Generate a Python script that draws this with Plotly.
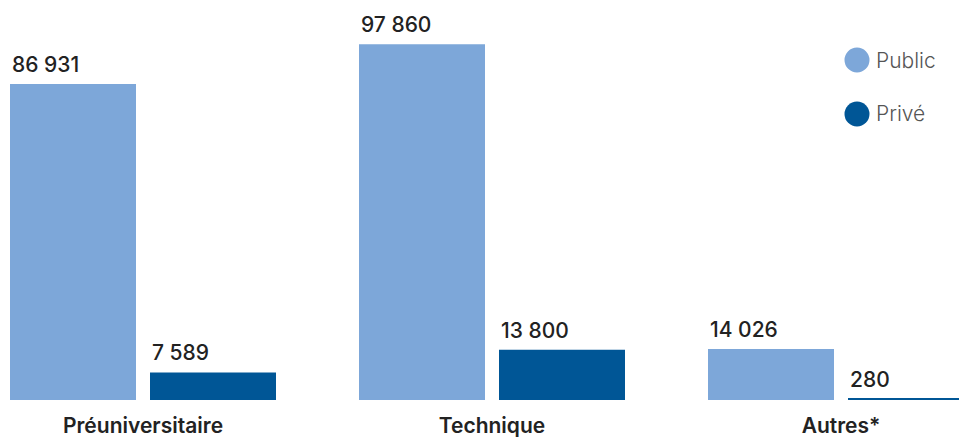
import plotly.graph_objects as go

categories = ["Préuniversitaire", "Technique", "Autres*"]
public_values = [86931, 97860, 14026]
prive_values = [7589, 13800, 280]
series_names = ["Public", "Privé"]
colors = ["#7da7d9", "#005696"]

W, H = 959, 439
MT, MB = 0, 39
YMAX = 110000
BARGAP = 0.1977
GROUPGAP = 0.1
CAT_PX = 349.0
FIRST_CENTER_PX = 143.0

def fmt(v):
    return f"{v:,}".replace(",", " ")

fig = go.Figure()
for name, vals, col in zip(series_names, [public_values, prive_values], colors):
    fig.add_trace(go.Bar(x=categories, y=vals, name=name, marker_color=col,
                         marker_line_width=0, showlegend=False, hoverinfo="skip"))

# value labels, left aligned with bar left edges
slot = (1 - BARGAP) * CAT_PX / 2
bar_w = slot * (1 - GROUPGAP)
annotations = []
for s, vals in enumerate([public_values, prive_values]):
    left_off = -slot + s * slot + (slot - bar_w) / 2
    for c, v in zip(categories, vals):
        annotations.append(dict(x=c, y=v, xref="x", yref="y", text=fmt(v),
                                showarrow=False, xanchor="left", yanchor="bottom",
                                xshift=left_off, yshift=5,
                                font=dict(family="Inter", size=21, color="#222222", weight=500)))

# legend (circles + labels)
shapes = []
leg_y_px = [60, 114]
for name, col, ypx in zip(series_names, colors, leg_y_px):
    yp = 1 - (ypx - MT) / (H - MT - MB)
    shapes.append(dict(type="circle", xref="paper", yref="paper",
                       xsizemode="pixel", ysizemode="pixel",
                       xanchor=857 / W, yanchor=yp,
                       x0=-12.5, x1=12.5, y0=-12.5, y1=12.5,
                       fillcolor=col, line_width=0))
    annotations.append(dict(x=874 / W, y=yp, xref="paper", yref="paper", text=name,
                            showarrow=False, xanchor="left", yanchor="middle",
                            font=dict(family="Inter", size=21, color="#555555", weight=300)))

x_lo = (0 - FIRST_CENTER_PX) / CAT_PX
x_hi = (W - FIRST_CENTER_PX) / CAT_PX

fig.update_layout(
    width=W, height=H,
    margin=dict(l=0, r=0, t=MT, b=MB),
    barmode="group", bargap=BARGAP, bargroupgap=GROUPGAP,
    plot_bgcolor="white", paper_bgcolor="white",
    xaxis=dict(range=[x_lo, x_hi], showgrid=False, zeroline=False, showline=False,
               ticks="", ticklabelstandoff=11,
               tickfont=dict(family="Inter", size=21, color="#222222", weight=600),
               automargin=False),
    yaxis=dict(range=[0, YMAX], visible=False, automargin=False),
    annotations=annotations, shapes=shapes,
)

fig.write_html("out.html")
